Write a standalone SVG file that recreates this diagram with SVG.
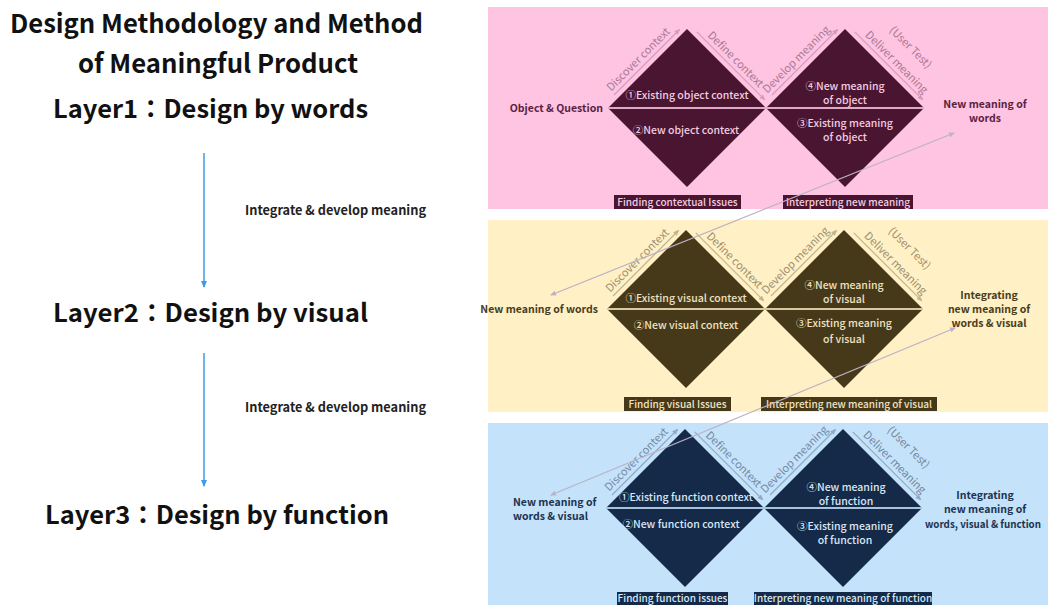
<svg xmlns="http://www.w3.org/2000/svg" width="1048" height="605" viewBox="0 0 1048 605">
<style>
text{font-family:"Noto Sans CJK JP","Noto Sans",sans-serif}
.title{font-size:26px;font-weight:700;fill:#111}
.layer{font-size:25px;font-weight:700;fill:#111}
.integ{font-size:13px;font-weight:700;fill:#222}
.in{font-size:10.5px;font-weight:500;text-anchor:middle}
.out{font-size:10.5px;font-weight:700}
.rot{font-size:11px;text-anchor:middle}
.box{font-size:10px;font-weight:500;text-anchor:middle}
.pk .dia,.pk .bx{fill:#4a1531}.pk .in,.pk .box{fill:#f2cde0}.pk .out{fill:#5a2241}.pk .rot{fill:#a97893}.pk .ar{stroke:#d49cb9}.pk .mid{stroke:#e0aac6}
.yw .dia,.yw .bx{fill:#46391a}.yw .in,.yw .box{fill:#efe2c2}.yw .out{fill:#493c1c}.yw .rot{fill:#9d8f6d}.yw .ar{stroke:#c4b48b}.yw .mid{stroke:#d8c9a0}
.bl .dia,.bl .bx{fill:#142a48}.bl .in,.bl .box{fill:#d9e7f5}.bl .out{fill:#1c3350}.bl .rot{fill:#74899f}.bl .ar{stroke:#91a9c3}.bl .mid{stroke:#a9c3dc}
.ar{stroke-width:1.2;fill:none}
.mid{stroke-width:2}
.cross{stroke:#bbb2c6;stroke-width:1.2;fill:none}
.varrow{stroke:#3d9be9;stroke-width:1.5}
</style>
<defs>
<marker id="mp" markerWidth="6" markerHeight="6" refX="5" refY="3" orient="auto" markerUnits="userSpaceOnUse"><path d="M0,0.5 L6,3 L0,5.5 z" fill="#d49cb9"/></marker>
<marker id="my" markerWidth="6" markerHeight="6" refX="5" refY="3" orient="auto" markerUnits="userSpaceOnUse"><path d="M0,0.5 L6,3 L0,5.5 z" fill="#c4b48b"/></marker>
<marker id="mb" markerWidth="6" markerHeight="6" refX="5" refY="3" orient="auto" markerUnits="userSpaceOnUse"><path d="M0,0.5 L6,3 L0,5.5 z" fill="#91a9c3"/></marker>
<marker id="mx" markerWidth="6" markerHeight="6" refX="5" refY="3" orient="auto-start-reverse" markerUnits="userSpaceOnUse"><path d="M0,0.5 L6,3 L0,5.5 z" fill="#bbb2c6"/></marker>
<marker id="mv" markerWidth="7" markerHeight="7" refX="6" refY="3.5" orient="auto" markerUnits="userSpaceOnUse"><path d="M0,0.5 L7,3.5 L0,6.5 z" fill="#3d9be9"/></marker>
</defs>
<rect width="1048" height="605" fill="#ffffff"/>

<g id="left-titles">
<text class="title" x="10" y="33" textLength="413" lengthAdjust="spacingAndGlyphs">Design Methodology and Method</text>
<text class="title" x="78" y="73" textLength="280" lengthAdjust="spacingAndGlyphs">of Meaningful Product</text>
</g>
<g id="layer1-title"><text class="layer" x="53" y="118" textLength="315" lengthAdjust="spacingAndGlyphs">Layer1：Design by words</text></g>
<g id="layer2-title"><text class="layer" x="53" y="322" textLength="315" lengthAdjust="spacingAndGlyphs">Layer2：Design by visual</text></g>
<g id="layer3-title"><text class="layer" x="45" y="524" textLength="344" lengthAdjust="spacingAndGlyphs">Layer3：Design by function</text></g>

<!-- Layer 1 panel -->
<g id="panel1" class="pk">
<rect x="488" y="7" width="560" height="202" fill="#ffc4e1"/>
<path class="dia" d="M608,108 L687,29 L766,108 L687,187 Z"/>
<path class="dia" d="M766,108 L845,29 L924,108 L845,187 Z"/>
<line class="mid" x1="608" y1="108" x2="924" y2="108"/>
<line class="ar" x1="614" y1="95" x2="679.5" y2="29.5" marker-end="url(#mp)"/>
<line class="ar" x1="696.8" y1="31.8" x2="764.7" y2="99.7" marker-end="url(#mp)"/>
<line class="ar" x1="772" y1="95" x2="837.5" y2="29.5" marker-end="url(#mp)"/>
<line class="ar" x1="854.8" y1="31.8" x2="922.7" y2="99.7" marker-end="url(#mp)"/>
<text class="rot" transform="translate(641,62) rotate(-45)">Discover context</text>
<text class="rot" transform="translate(733,62) rotate(45)">Define context</text>
<text class="rot" transform="translate(799,62) rotate(-45)">Develop meaning</text>
<text class="rot" transform="translate(894,65) rotate(45)">Deliver meaning</text>
<text class="rot" transform="translate(908,50) rotate(45)">(User Test)</text>
<text class="out" x="603" y="112" text-anchor="end">Object &amp; Question</text>
<text class="out" x="985" y="108" text-anchor="middle">New meaning of</text>
<text class="out" x="985" y="122" text-anchor="middle">words</text>
<text class="in" x="687" y="99">①Existing object context</text>
<text class="in" x="686" y="134">②New object context</text>
<text class="in" x="845" y="90">④New meaning</text>
<text class="in" x="845" y="104">of object</text>
<text class="in" x="845" y="127">③Existing meaning</text>
<text class="in" x="845" y="141">of object</text>
<rect class="bx" x="614" y="195" width="127" height="14"/>
<text class="box" x="677.5" y="206">Finding contextual Issues</text>
<rect class="bx" x="783" y="195" width="130" height="14"/>
<text class="box" x="848" y="206">Interpreting new meaning</text>
</g>

<!-- Layer 2 panel -->
<g id="panel2" class="yw">
<rect x="488" y="220" width="560" height="192" fill="#fff0c6"/>
<path class="dia" d="M607,309 L686,230 L765,309 L686,388 Z"/>
<path class="dia" d="M765,309 L844,230 L923,309 L844,388 Z"/>
<line class="mid" x1="607" y1="309" x2="923" y2="309"/>
<line class="ar" x1="613" y1="296" x2="678.5" y2="230.5" marker-end="url(#my)"/>
<line class="ar" x1="695.8" y1="232.8" x2="763.7" y2="300.7" marker-end="url(#my)"/>
<line class="ar" x1="771" y1="296" x2="836.5" y2="230.5" marker-end="url(#my)"/>
<line class="ar" x1="853.8" y1="232.8" x2="921.7" y2="300.7" marker-end="url(#my)"/>
<text class="rot" transform="translate(640,263) rotate(-45)">Discover context</text>
<text class="rot" transform="translate(732,263) rotate(45)">Define context</text>
<text class="rot" transform="translate(798,263) rotate(-45)">Develop meaning</text>
<text class="rot" transform="translate(893,266) rotate(45)">Deliver meaning</text>
<text class="rot" transform="translate(907,251) rotate(45)">(User Test)</text>
<text class="out" x="598" y="313" text-anchor="end">New meaning of words</text>
<text class="out" x="989" y="299" text-anchor="middle">Integrating</text>
<text class="out" x="989" y="313" text-anchor="middle">new meaning of</text>
<text class="out" x="989" y="327" text-anchor="middle">words &amp; visual</text>
<text class="in" x="686" y="302">①Existing visual context</text>
<text class="in" x="686" y="329">②New visual context</text>
<text class="in" x="844" y="289">④New meaning</text>
<text class="in" x="844" y="303">of visual</text>
<text class="in" x="844" y="327">③Existing meaning</text>
<text class="in" x="844" y="343">of visual</text>
<rect class="bx" x="624" y="397" width="107" height="14"/>
<text class="box" x="677.5" y="408">Finding visual Issues</text>
<rect class="bx" x="761" y="397" width="176" height="14"/>
<text class="box" x="849" y="408">Interpreting new meaning of visual</text>
</g>

<!-- Layer 3 panel -->
<g id="panel3" class="bl">
<rect x="488" y="423" width="560" height="182" fill="#c4e2fa"/>
<path class="dia" d="M606,508 L685,429 L764,508 L685,587 Z"/>
<path class="dia" d="M764,508 L843,429 L922,508 L843,587 Z"/>
<line class="mid" x1="606" y1="508" x2="922" y2="508"/>
<line class="ar" x1="612" y1="495" x2="677.5" y2="429.5" marker-end="url(#mb)"/>
<line class="ar" x1="694.8" y1="431.8" x2="762.7" y2="499.7" marker-end="url(#mb)"/>
<line class="ar" x1="770" y1="495" x2="835.5" y2="429.5" marker-end="url(#mb)"/>
<line class="ar" x1="852.8" y1="431.8" x2="920.7" y2="499.7" marker-end="url(#mb)"/>
<text class="rot" transform="translate(639,462) rotate(-45)">Discover context</text>
<text class="rot" transform="translate(731,462) rotate(45)">Define context</text>
<text class="rot" transform="translate(797,462) rotate(-45)">Develop meaning</text>
<text class="rot" transform="translate(892,465) rotate(45)">Deliver meaning</text>
<text class="rot" transform="translate(906,450) rotate(45)">(User Test)</text>
<text class="out" x="513" y="506">New meaning of</text>
<text class="out" x="513" y="520">words &amp; visual</text>
<text class="out" x="985" y="499" text-anchor="middle">Integrating</text>
<text class="out" x="985" y="513" text-anchor="middle">new meaning of</text>
<text class="out" x="983" y="528" text-anchor="middle" textLength="116" lengthAdjust="spacingAndGlyphs">words, visual &amp; function</text>
<text class="in" x="686" y="501">①Existing function context</text>
<text class="in" x="681" y="528">②New function context</text>
<text class="in" x="846" y="491">④New meaning</text>
<text class="in" x="846" y="505">of function</text>
<text class="in" x="845" y="530">③Existing meaning</text>
<text class="in" x="845" y="544">of function</text>
<rect class="bx" x="617" y="592" width="111" height="13"/>
<text class="box" x="672.5" y="601.5">Finding function issues</text>
<rect class="bx" x="754" y="592" width="178" height="13"/>
<text class="box" x="843" y="601.5">Interpreting new meaning of function</text>
</g>

<g id="connectors">
<line class="varrow" x1="204" y1="153" x2="204" y2="287" marker-end="url(#mv)"/>
<text class="integ" x="245" y="215" textLength="181" lengthAdjust="spacingAndGlyphs">Integrate &amp; develop meaning</text>
<line class="varrow" x1="204" y1="353" x2="204" y2="486" marker-end="url(#mv)"/>
<text class="integ" x="245" y="412" textLength="181" lengthAdjust="spacingAndGlyphs">Integrate &amp; develop meaning</text>
<line class="cross" x1="551" y1="295" x2="954" y2="133" marker-start="url(#mx)" marker-end="url(#mx)"/>
<line class="cross" x1="551" y1="495" x2="955" y2="328" marker-start="url(#mx)" marker-end="url(#mx)"/>
</g>
</svg>
